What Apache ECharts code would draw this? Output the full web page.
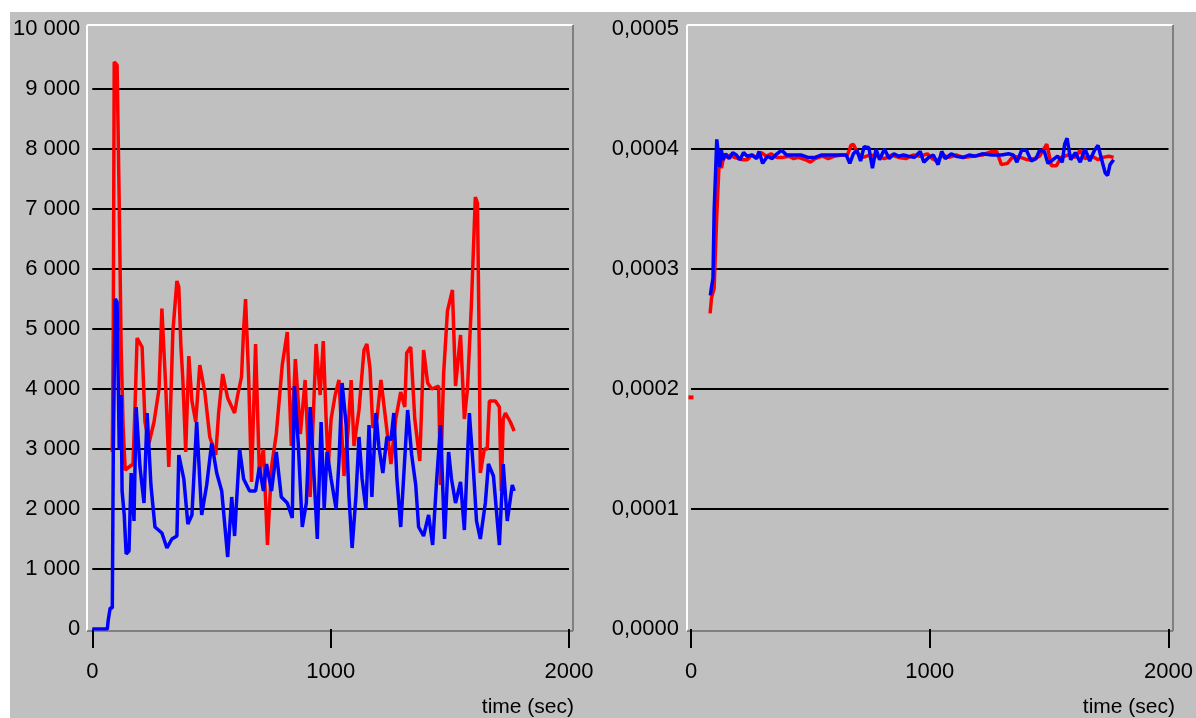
<!DOCTYPE html>
<html>
<head>
<meta charset="utf-8">
<script src="https://cdn.jsdelivr.net/npm/echarts@6/dist/echarts.min.js"></script>
<style>
  body { margin: 0; background: #ffffff; }
  #chart { position: absolute; left: 10px; top: 12px; width: 1186px; height: 706px; background: #c0c0c0; }
</style>
</head>
<body>
<div id="chart"></div>
<script>
// left panel: [time (sec), value]
var leftRed = [
  [84,2950],[88,4900],[92,9450],[104,9400],[113,7100],[121,4700],[129,3400],[138,2650],[154,2700],[171,2750],
  [180,3800],[188,4850],[209,4700],[221,3450],[238,3100],[259,3450],[280,4000],[292,5340],[309,3950],[321,2700],
  [338,4950],[355,5800],[363,5700],[372,4700],[380,4150],[392,2950],[405,4550],[418,3800],[434,3450],[451,4400],
  [472,3950],[493,3200],[518,2900],[530,3600],[547,4250],[568,3850],[597,3600],[610,3900],[626,4200],[635,5000],
  [643,5500],[656,4200],[668,2450],[685,4750],[701,2600],[718,3000],[735,1400],[752,2700],[772,3250],[797,4400],
  [818,4950],[835,3050],[852,4500],[873,3250],[893,4150],[914,2200],[939,4750],[956,3900],[969,4800],[981,3500],
  [990,2700],[1002,3500],[1019,3900],[1035,4150],[1056,2550],[1073,3300],[1086,4150],[1098,3050],[1119,3650],[1140,4650],
  [1152,4750],[1165,4350],[1177,3350],[1194,3500],[1211,4150],[1232,3450],[1253,2750],[1273,3500],[1294,3950],[1311,3700],
  [1319,4600],[1336,4700],[1353,3500],[1374,2800],[1390,4650],[1407,4100],[1424,4000],[1453,4050],[1461,2400],[1474,4250],
  [1490,5300],[1511,5650],[1524,4050],[1545,4900],[1561,3500],[1574,4000],[1591,5450],[1607,7200],[1616,7100],[1624,4500],
  [1628,2600],[1645,3000],[1657,3000],[1666,3800],[1691,3800],[1708,3700],[1716,2300],[1724,3500],[1733,3600],[1754,3450],
  [1770,3300]
];
var leftBlue = [
  [0,0],[63,0],[67,150],[75,350],[84,350],[88,2900],[96,5500],[104,5450],[113,3000],[121,3900],
  [125,2300],[134,1900],[142,1250],[154,1300],[163,2600],[175,1800],[184,3700],[200,2700],[217,2100],[230,3600],
  [246,2400],[263,1700],[292,1600],[313,1350],[334,1500],[355,1550],[363,2900],[384,2500],[401,1750],[418,1900],
  [438,3450],[459,1900],[480,2400],[501,3100],[522,2600],[543,2300],[568,1200],[585,2200],[597,1550],[618,3000],
  [635,2500],[660,2300],[685,2300],[701,2700],[718,2300],[731,2750],[752,2300],[772,2950],[793,2200],[818,2100],
  [839,1850],[848,4050],[864,3100],[881,1700],[898,2100],[914,3700],[931,2500],[944,1500],[960,3450],[973,2000],
  [985,2950],[1002,2500],[1023,2000],[1035,2800],[1048,4100],[1065,3400],[1077,2200],[1090,1350],[1106,2200],[1119,3200],
  [1132,2500],[1148,2000],[1161,3400],[1173,2200],[1190,3600],[1202,3050],[1219,2600],[1236,3200],[1253,3150],[1265,3600],
  [1278,2500],[1294,1700],[1323,3650],[1340,2900],[1357,2400],[1369,1700],[1390,1550],[1411,1900],[1428,1400],[1445,2500],
  [1461,3400],[1478,1500],[1495,2950],[1507,2500],[1524,2100],[1545,2450],[1561,1650],[1582,3600],[1599,2650],[1612,1800],
  [1628,1500],[1649,2100],[1662,2750],[1683,2550],[1708,1400],[1724,2750],[1741,1800],[1762,2400],[1770,2300]
];

// right panel: [time (sec), value]; '-' marks a gap
var rightRed = [
  [0,0.000193],[40,'-'],
  [80,0.000263],[86,0.000276],[97,0.000284],[108,0.000345],[115,0.000345],[120,0.000398],[128,0.000384],[138,0.000396],
  [150,0.000393],[165,0.000395],[180,0.000393],[200,0.000392],[215,0.000391],[235,0.000391],[255,0.000395],[275,0.000393],
  [295,0.000397],[315,0.000394],[335,0.000396],[360,0.000393],[385,0.000393],[410,0.000394],[430,0.000392],[450,0.000393],
  [480,0.000391],[500,0.000389],[520,0.000392],[550,0.000394],[575,0.000392],[600,0.000394],[630,0.000395],[655,0.000395],
  [670,0.000403],[680,0.000404],[700,0.000396],[720,0.000393],[750,0.000395],[780,0.000394],[810,0.000392],[840,0.000395],
  [870,0.000393],[900,0.000392],[930,0.000395],[960,0.000394],[990,0.000396],[1010,0.000392],[1030,0.000390],[1055,0.000395],
  [1080,0.000393],[1110,0.000395],[1140,0.000393],[1180,0.000394],[1220,0.000395],[1260,0.000398],[1280,0.000398],[1300,0.000387],
  [1325,0.000388],[1350,0.000394],[1380,0.000393],[1410,0.000391],[1440,0.000392],[1460,0.000394],[1490,0.000404],[1510,0.000386],
  [1530,0.000386],[1550,0.000393],[1580,0.000395],[1610,0.000393],[1630,0.000399],[1650,0.000392],[1680,0.000394],[1705,0.000391],
  [1725,0.000393],[1750,0.000394],[1770,0.000393]
];
var rightBlue = [
  [81,0.000278],[86,0.000285],[92,0.000292],[97,0.000349],[102,0.000349],[108,0.000408],[114,0.000408],[120,0.000385],
  [127,0.000399],[135,0.000391],[145,0.000396],[160,0.000392],[175,0.000397],[190,0.000395],[205,0.000391],[220,0.000397],
  [235,0.000394],[255,0.000395],[275,0.000392],[285,0.000398],[300,0.000388],[320,0.000394],[340,0.000392],[360,0.000396],
  [380,0.000399],[400,0.000395],[430,0.000395],[460,0.000395],[490,0.000393],[520,0.000393],[545,0.000395],[600,0.000395],
  [650,0.000395],[665,0.000388],[680,0.000396],[695,0.000399],[710,0.000390],[725,0.000402],[745,0.000401],[760,0.000384],
  [775,0.000400],[790,0.000391],[810,0.000400],[830,0.000392],[850,0.000396],[870,0.000394],[890,0.000395],[910,0.000394],
  [935,0.000393],[960,0.000398],[975,0.000389],[995,0.000393],[1015,0.000395],[1035,0.000387],[1050,0.000398],[1065,0.000392],
  [1090,0.000396],[1110,0.000394],[1140,0.000393],[1165,0.000395],[1190,0.000394],[1220,0.000396],[1260,0.000395],[1300,0.000395],
  [1330,0.000396],[1350,0.000395],[1365,0.000389],[1385,0.000399],[1405,0.000399],[1425,0.000390],[1445,0.000392],[1460,0.000399],
  [1480,0.000398],[1495,0.000388],[1515,0.000391],[1535,0.000394],[1555,0.000389],[1565,0.000404],[1575,0.000409],[1590,0.000391],
  [1610,0.000397],[1630,0.000389],[1650,0.000400],[1670,0.000390],[1690,0.000399],[1705,0.000403],[1720,0.000391],[1735,0.000380],
  [1745,0.000378],[1755,0.000387],[1770,0.000391]
];

var xTicks = { min: 0, max: 2000, interval: 1000 };
var leftY = { min: 0, max: 10000, interval: 1000 };
var rightY = { min: 0, max: 0.0005, interval: 0.0001 };

var FONT = 'Liberation Sans';
var chart = echarts.init(document.getElementById('chart'));

function xAxisOf(gi) {
  return {
    type: 'value', gridIndex: gi, min: xTicks.min, max: xTicks.max, interval: xTicks.interval,
    offset: 4,
    axisLine: { show: false },
    axisTick: { show: true, length: 19, lineStyle: { color: '#000', width: 2 } },
    axisLabel: { color: '#000', fontSize: 22, fontFamily: FONT, margin: 28, formatter: function (v) { return String(v); } },
    splitLine: { show: false }
  };
}
function yAxisOf(gi, r, fmt) {
  return {
    type: 'value', gridIndex: gi, min: r.min, max: r.max, interval: r.interval,
    axisLine: { show: false },
    axisTick: { show: false },
    axisLabel: { color: '#000', fontSize: 22, fontFamily: FONT, margin: 12, formatter: fmt },
    splitLine: { show: true, showMinLine: false, showMaxLine: false, lineStyle: { color: '#000', width: 2 } }
  };
}
// frame like a sunken box: white top/left, grey right/bottom
function frame(x0, x1, y0, y1) {
  return [
    { type: 'line', shape: { x1: x0, y1: y0, x2: x1, y2: y0 }, style: { stroke: '#ffffff', lineWidth: 2 } },
    { type: 'line', shape: { x1: x0, y1: y0, x2: x0, y2: y1 }, style: { stroke: '#ffffff', lineWidth: 2 } },
    { type: 'line', shape: { x1: x1, y1: y0, x2: x1, y2: y1 }, style: { stroke: '#808080', lineWidth: 2 } },
    { type: 'line', shape: { x1: x0, y1: y1, x2: x1, y2: y1 }, style: { stroke: '#808080', lineWidth: 2 } }
  ];
}
function timeLabel(xRight) {
  return { type: 'text', x: xRight, y: 695,
    style: { text: 'time (sec)', fill: '#000', font: '21px "' + FONT + '"', align: 'right', verticalAlign: 'middle' } };
}
function lineSeries(xi, data, color) {
  return {
    type: 'line', xAxisIndex: xi, yAxisIndex: xi, data: data,
    showSymbol: false, symbol: 'none', connectNulls: false,
    lineStyle: { color: color, width: 3.5 }, itemStyle: { color: color }
  };
}

var rightRedData = rightRed.map(function (p, i) {
  if (i === 0) return { value: p, symbol: 'rect', symbolSize: [5, 4] };
  return p;
});
var rs = lineSeries(1, rightRedData, '#ff0000');
rs.showSymbol = true;

chart.setOption({
  animation: false,
  backgroundColor: '#c0c0c0',
  textStyle: { fontFamily: FONT },
  grid: [
    { left: 80, top: 17, width: 479, height: 600 },
    { left: 681, top: 17, width: 478, height: 600 }
  ],
  xAxis: [xAxisOf(0), xAxisOf(1)],
  yAxis: [
    yAxisOf(0, leftY, function (v) { return v >= 1000 ? Math.floor(v / 1000) + ' ' + ('00' + (v % 1000)).slice(-3) : String(v); }),
    yAxisOf(1, rightY, function (v) { return v.toFixed(4).replace('.', ','); })
  ],
  graphic: [].concat(
    frame(77, 563, 13, 619),
    frame(677, 1163, 13, 619),
    [timeLabel(564), timeLabel(1165)]
  ),
  series: [
    lineSeries(0, leftRed, '#ff0000'),
    lineSeries(0, leftBlue, '#0000ff'),
    rs,
    lineSeries(1, rightBlue, '#0000ff')
  ]
});
</script>
</body>
</html>
